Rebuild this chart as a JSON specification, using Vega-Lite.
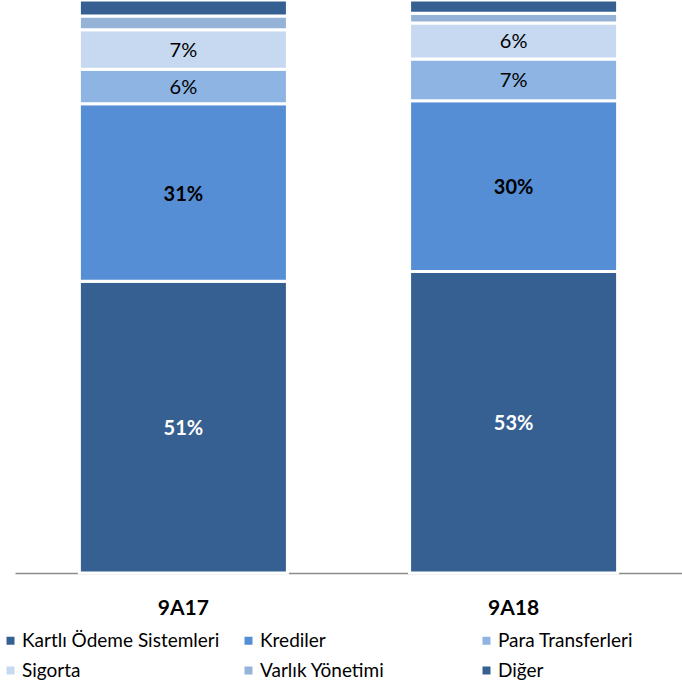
{
  "$schema": "https://vega.github.io/schema/vega-lite/v6.json",
  "width": 667,
  "height": 573,
  "autosize": {"type": "none"},
  "padding": {"left": 15, "top": 0, "right": 0, "bottom": 115},
  "background": "white",
  "config": {"view": {"stroke": null}},
  "data": {
    "values": [
      {"p": "9A17", "cat": "Kartlı Ödeme Sistemleri", "idx": 1, "v": 0.509},
      {"p": "9A17", "cat": "Krediler", "idx": 2, "v": 0.31},
      {"p": "9A17", "cat": "Para Transferleri", "idx": 3, "v": 0.06},
      {"p": "9A17", "cat": "Sigorta", "idx": 4, "v": 0.069},
      {"p": "9A17", "cat": "Varlık Yönetimi", "idx": 5, "v": 0.024},
      {"p": "9A17", "cat": "Diğer", "idx": 6, "v": 0.028},
      {"p": "9A18", "cat": "Kartlı Ödeme Sistemleri", "idx": 1, "v": 0.526},
      {"p": "9A18", "cat": "Krediler", "idx": 2, "v": 0.298},
      {"p": "9A18", "cat": "Para Transferleri", "idx": 3, "v": 0.073},
      {"p": "9A18", "cat": "Sigorta", "idx": 4, "v": 0.063},
      {"p": "9A18", "cat": "Varlık Yönetimi", "idx": 5, "v": 0.017},
      {"p": "9A18", "cat": "Diğer", "idx": 6, "v": 0.023}
    ]
  },
  "encoding": {
    "x": {
      "field": "p",
      "type": "nominal",
      "sort": ["9A17", "9A18"],
      "scale": {"paddingInner": 0.37, "paddingOuter": 0.195},
      "axis": {
        "title": null,
        "labelAngle": 0,
        "labelFont": "Lato",
        "labelFontSize": 21,
        "labelFontWeight": "bold",
        "labelColor": "#000000",
        "labelPadding": 24,
        "ticks": false,
        "domainColor": "#8c8c8c",
        "domainWidth": 1.5
      }
    },
    "y": {
      "field": "v",
      "type": "quantitative",
      "stack": "zero",
      "scale": {"domain": [0, 1], "nice": false},
      "axis": null
    },
    "order": {"field": "idx", "type": "quantitative"}
  },
  "layer": [
    {
      "mark": {"type": "bar", "stroke": "white", "strokeWidth": 3},
      "encoding": {
        "color": {
          "field": "cat",
          "type": "nominal",
          "scale": {
            "domain": ["Kartlı Ödeme Sistemleri", "Krediler", "Para Transferleri", "Sigorta", "Varlık Yönetimi", "Diğer"],
            "range": ["#366092", "#558ED5", "#8DB4E2", "#C6D9F1", "#95B3D7", "#366092"]
          },
          "legend": {
            "title": null,
            "orient": "none",
            "legendX": -14,
            "legendY": 631,
            "direction": "horizontal",
            "columns": 3,
            "gridAlign": "all",
            "columnPadding": 19,
            "rowPadding": 10,
            "symbolType": "square",
            "symbolSize": 64,
            "symbolStrokeWidth": 0,
            "labelFont": "Lato",
            "labelFontSize": 19,
            "labelColor": "#000000",
            "labelOffset": 2,
            "labelLimit": 400
          }
        }
      }
    },
    {
      "mark": {"type": "text", "font": "Lato", "fontSize": 20, "fontWeight": "bold", "baseline": "middle", "dy": 2},
      "encoding": {
        "y": {"field": "v", "type": "quantitative", "stack": "zero", "bandPosition": 0.5},
        "detail": {"field": "cat"},
        "text": {
          "condition": {"test": "datum.cat === 'Kartlı Ödeme Sistemleri' || datum.cat === 'Krediler'", "field": "v", "type": "quantitative", "format": ".0%"},
          "value": ""
        },
        "color": {
          "condition": {"test": "datum.cat === 'Kartlı Ödeme Sistemleri'", "value": "#ffffff"},
          "value": "#000000"
        }
      }
    },
    {
      "mark": {"type": "text", "font": "Lato", "fontSize": 20, "baseline": "middle", "dy": 1, "color": "#000000"},
      "encoding": {
        "y": {"field": "v", "type": "quantitative", "stack": "zero", "bandPosition": 0.5},
        "detail": {"field": "cat"},
        "text": {
          "condition": {"test": "datum.cat === 'Para Transferleri' || datum.cat === 'Sigorta'", "field": "v", "type": "quantitative", "format": ".0%"},
          "value": ""
        }
      }
    }
  ]
}
